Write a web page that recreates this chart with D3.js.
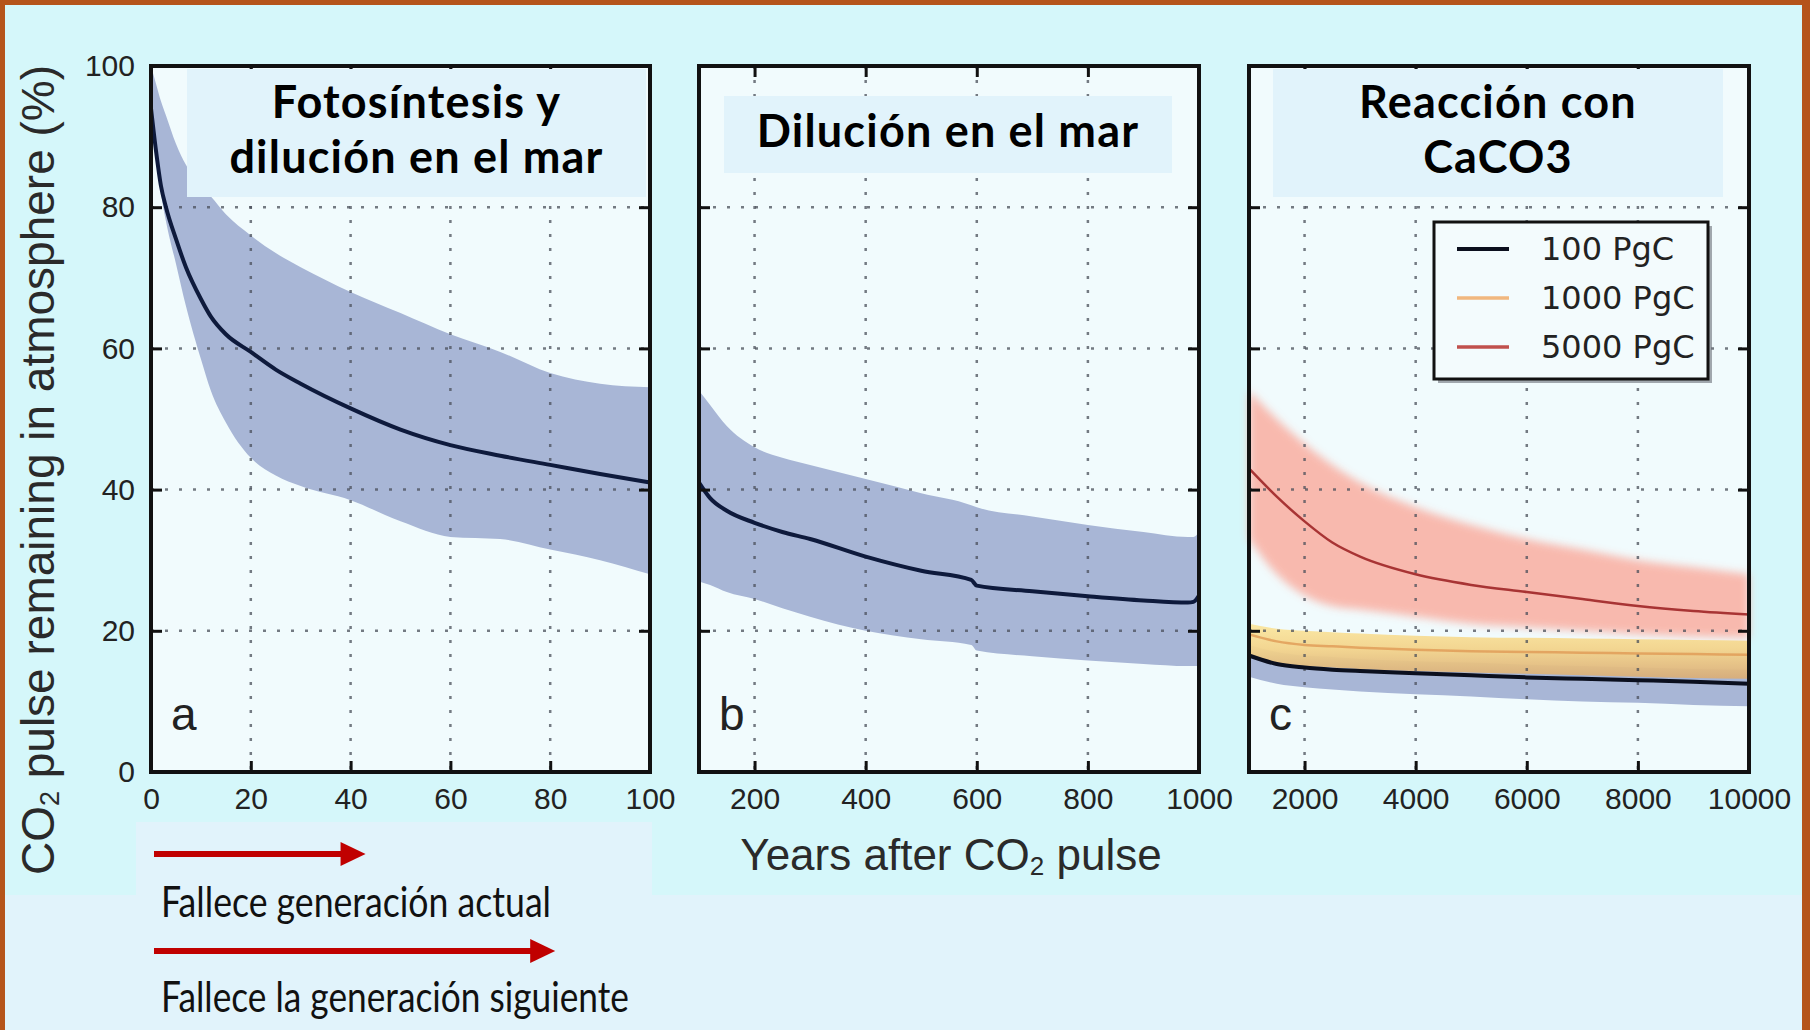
<!DOCTYPE html>
<html>
<head>
<meta charset="utf-8">
<script src="https://cdn.jsdelivr.net/npm/d3@7"></script>
<style>
  body { margin: 0; background: #e1f3fb; }
  svg { display: block; }
</style>
</head>
<body>
<div id="vis-container"></div>
<script>
// Values
const yTicks = [0, 20, 40, 60, 80, 100];
const xTicksA = [0, 20, 40, 60, 80, 100];
const xTicksB = [200, 400, 600, 800, 1000];
const xTicksC = [2000, 4000, 6000, 8000, 10000];

// panel a: 0-100 years
const yearsA = [0, 1, 2, 3, 5, 7, 10, 12, 15, 20, 25, 30, 40, 50, 60, 70, 80, 90, 100];
const meanA  = [94, 88, 83, 80, 75.5, 71.5, 67, 64.5, 62, 59.5, 57, 55, 51.5, 48.5, 46.3, 44.8, 43.5, 42.2, 41];
const upperA = [100, 97.5, 95, 93, 89, 86, 83, 81.5, 79, 76, 73.5, 71.5, 68, 65, 62, 59.5, 56.5, 55, 54.5];
const lowerA = [92, 88, 82, 78, 72, 66, 58.5, 54, 49.5, 44.5, 42, 40.5, 38.5, 35.5, 33.3, 33, 31.5, 30, 28];

// panel b: 100-1000 years
const yearsB = [100, 120, 150, 200, 250, 300, 400, 500, 590, 600, 700, 800, 900, 980, 990, 1000];
const meanB  = [41, 38.8, 37, 35.3, 34, 33, 30.5, 28.5, 27.2, 26.4, 25.6, 24.9, 24.3, 24, 24.1, 25];
const upperB = [54, 52, 49, 46, 44.5, 43.5, 41.5, 39.5, 37.8, 37.5, 36.2, 35, 34, 33.3, 33.3, 34];
const lowerB = [27, 26.5, 25.5, 24.5, 23.2, 22, 20, 18.8, 18, 17.2, 16.4, 15.8, 15.3, 15, 15, 15];

// panel c: 1000-10000 years, three pulse sizes
const yearsC = [1000, 1500, 2000, 2500, 3000, 4000, 5000, 6000, 7000, 8000, 9000, 10000];
const mean100C   = [16.5, 15.3, 14.8, 14.5, 14.3, 14, 13.7, 13.4, 13.2, 13, 12.8, 12.5];
const upper100C  = [18, 17, 16.5, 16.3, 16, 15.7, 15.5, 15.2, 15, 14.8, 14.6, 14.5];
const lower100C  = [13.5, 12.5, 12, 11.7, 11.4, 11, 10.7, 10.3, 10, 9.8, 9.5, 9.3];
const mean1000C  = [19.5, 18.5, 18, 17.8, 17.6, 17.3, 17.1, 17, 16.9, 16.8, 16.7, 16.6];
const upper1000C = [21, 20.3, 20, 19.8, 19.6, 19.3, 19.1, 19, 18.9, 18.8, 18.7, 18.6];
const lower1000C = [16.5, 15.5, 15, 14.8, 14.6, 14.3, 14.1, 13.9, 13.7, 13.5, 13.3, 13.2];
const mean5000C  = [43, 39, 35.5, 32.5, 30.5, 28, 26.5, 25.5, 24.5, 23.5, 22.8, 22.3];
const upper5000C = [54, 50, 46.5, 43.5, 41, 37.5, 35, 33, 31.5, 30, 29, 28];
const lower5000C = [33, 28, 25, 23.5, 23, 22, 21, 20.5, 20, 19.5, 19.2, 19];

const legendLabels = ["100 PgC", "1000 PgC", "5000 PgC"];
const panelLetters = ["a", "b", "c"];
const panelTitles = [["Fotosíntesis y", "dilución en el mar"], ["Dilución en el mar"], ["Reacción con", "CaCO3"]];
const arrowEnds = [43, 81]; // years on panel a
const arrowLabels = ["Fallece generación actual", "Fallece la generación siguiente"];

// Set dimensions
const width = 1810;
const height = 1030;
const plotTop = 66;
const plotBottom = 772;

const svg = d3.select("#vis-container")
  .append("svg")
  .attr("width", width)
  .attr("height", height)
  .attr("viewBox", [0, 0, width, height]);

const defs = svg.append("defs");
defs.append("filter").attr("id", "soft")
  .attr("x", "-10%").attr("y", "-20%").attr("width", "120%").attr("height", "140%")
  .append("feGaussianBlur").attr("stdDeviation", 4);
const yellowGrad = defs.append("linearGradient").attr("id", "yellowGrad")
  .attr("x1", 0).attr("x2", 0).attr("y1", 0).attr("y2", 1);
yellowGrad.append("stop").attr("offset", "0%").attr("stop-color", "#fbe7a0");
yellowGrad.append("stop").attr("offset", "45%").attr("stop-color", "#f3d48c");
yellowGrad.append("stop").attr("offset", "100%").attr("stop-color", "#d9ad78");

// Background: brown frame, slide, figure
svg.append("rect").attr("width", width).attr("height", height).attr("fill", "#b5541a");
svg.append("rect").attr("x", 5).attr("y", 5).attr("width", width - 13).attr("height", height - 5)
  .attr("fill", "#e1f3fb");
svg.append("rect").attr("x", 5).attr("y", 5).attr("width", width - 13).attr("height", 890)
  .attr("fill", "#d5f7fa");

// Y scale shared by all panels
const yScale = d3.scaleLinear().domain([0, 100]).range([plotBottom, plotTop]);

const panels = [
  { left: 151, right: 650, domain: [0, 100], ticks: xTicksA },
  { left: 699, right: 1199, domain: [100, 1000], ticks: xTicksB },
  { left: 1249, right: 1749, domain: [1000, 10000], ticks: xTicksC }
];
panels.forEach((p) => {
  p.x = d3.scaleLinear().domain(p.domain).range([p.left, p.right]);
  p.g = svg.append("g");
  p.g.append("rect")
    .attr("x", p.left).attr("y", plotTop)
    .attr("width", p.right - p.left).attr("height", plotBottom - plotTop)
    .attr("fill", "#f1fbfd");
  p.bands = p.g.append("g");
  p.grid = p.g.append("g");
  p.lines = p.g.append("g");
});

// Helpers for bands and lines
function drawBand(p, years, lo, hi, fill, opacity, filter) {
  const area = d3.area()
    .x((d, i) => p.x(years[i]))
    .y0((d, i) => yScale(lo[i]))
    .y1((d, i) => yScale(hi[i]))
    .curve(d3.curveMonotoneX);
  const path = p.bands.append("path")
    .attr("d", area(years))
    .attr("fill", fill)
    .attr("opacity", opacity);
  if (filter) path.attr("filter", filter);
}
function drawLine(p, years, vals, color, w, opacity) {
  const line = d3.line()
    .x((d, i) => p.x(years[i]))
    .y((d, i) => yScale(vals[i]))
    .curve(d3.curveMonotoneX);
  p.lines.append("path")
    .attr("d", line(years))
    .attr("fill", "none")
    .attr("stroke", color)
    .attr("stroke-width", w)
    .attr("opacity", opacity);
}

// Bands
drawBand(panels[0], yearsA, lowerA, upperA, "#a8b6d6", 1);
drawBand(panels[1], yearsB, lowerB, upperB, "#a8b6d6", 1);
drawBand(panels[2], yearsC, lower5000C, upper5000C, "#f9b2a6", 0.9, "url(#soft)");
drawBand(panels[2], yearsC, lower100C, upper100C, "#a8b6d6", 1);
drawBand(panels[2], yearsC, lower1000C, upper1000C, "url(#yellowGrad)", 0.95);

// Grid and inward ticks
panels.forEach((p) => {
  const inner = p.ticks.filter((t) => t > p.domain[0] && t < p.domain[1]);
  p.grid.selectAll(".vgrid").data(inner).enter().append("line")
    .attr("x1", (d) => p.x(d)).attr("x2", (d) => p.x(d))
    .attr("y1", plotTop).attr("y2", plotBottom)
    .attr("stroke", "#4a4f5a").attr("stroke-width", 2.5)
    .attr("stroke-dasharray", "3,11").attr("opacity", 0.75);
  p.grid.selectAll(".hgrid").data(yTicks.slice(1, -1)).enter().append("line")
    .attr("x1", p.left).attr("x2", p.right)
    .attr("y1", (d) => yScale(d)).attr("y2", (d) => yScale(d))
    .attr("stroke", "#4a4f5a").attr("stroke-width", 2.5)
    .attr("stroke-dasharray", "3,11").attr("opacity", 0.75);

  // bottom axis with labels
  p.g.append("g")
    .attr("transform", `translate(0,${plotBottom})`)
    .call(d3.axisBottom(p.x).tickValues(p.ticks).tickFormat(d3.format("d"))
      .tickSizeInner(-11).tickSizeOuter(0).tickPadding(16))
    .call((g) => g.select(".domain").remove())
    .call((g) => g.selectAll("line").attr("stroke", "#111").attr("stroke-width", 3))
    .call((g) => g.selectAll("text")
      .attr("font-family", "Liberation Sans, Arial, sans-serif")
      .attr("font-size", 30).attr("fill", "#222"));
  // top ticks
  p.g.append("g")
    .attr("transform", `translate(0,${plotTop})`)
    .call(d3.axisTop(p.x).tickValues(inner).tickSizeInner(-11).tickSizeOuter(0).tickFormat(""))
    .call((g) => g.select(".domain").remove())
    .call((g) => g.selectAll("line").attr("stroke", "#111").attr("stroke-width", 3));
  // left and right ticks
  p.g.append("g")
    .attr("transform", `translate(${p.left},0)`)
    .call(d3.axisLeft(yScale).tickValues(yTicks.slice(1, -1)).tickSizeInner(-11).tickSizeOuter(0).tickFormat(""))
    .call((g) => g.select(".domain").remove())
    .call((g) => g.selectAll("line").attr("stroke", "#111").attr("stroke-width", 3));
  p.g.append("g")
    .attr("transform", `translate(${p.right},0)`)
    .call(d3.axisRight(yScale).tickValues(yTicks.slice(1, -1)).tickSizeInner(-11).tickSizeOuter(0).tickFormat(""))
    .call((g) => g.select(".domain").remove())
    .call((g) => g.selectAll("line").attr("stroke", "#111").attr("stroke-width", 3));
});

// Y axis labels on panel a
svg.append("g")
  .attr("transform", `translate(${panels[0].left},0)`)
  .call(d3.axisLeft(yScale).tickValues(yTicks).tickSize(0).tickPadding(16))
  .call((g) => g.select(".domain").remove())
  .call((g) => g.selectAll("text")
    .attr("font-family", "Liberation Sans, Arial, sans-serif")
    .attr("font-size", 30).attr("fill", "#222"));

// Mean lines
drawLine(panels[0], yearsA, meanA, "#0e1a3c", 4, 1);
drawLine(panels[1], yearsB, meanB, "#0e1a3c", 4, 1);
drawLine(panels[2], yearsC, mean1000C, "#e09a55", 2.5, 0.8);
drawLine(panels[2], yearsC, mean5000C, "#a83434", 2.5, 1);
drawLine(panels[2], yearsC, mean100C, "#0b0f1e", 4, 1);

// Frames, letters and title boxes
panels.forEach((p, i) => {
  p.g.append("rect")
    .attr("x", p.left).attr("y", plotTop)
    .attr("width", p.right - p.left).attr("height", plotBottom - plotTop)
    .attr("fill", "none").attr("stroke", "#111").attr("stroke-width", 4);

  p.g.append("text")
    .attr("x", p.left + 20).attr("y", 730)
    .attr("font-family", "Liberation Sans, Arial, sans-serif")
    .attr("font-size", 46).attr("fill", "#222")
    .text(panelLetters[i]);
});

const titleBoxes = [
  { x: 187, y: 69, w: 459, h: 128 },
  { x: 724, y: 96, w: 448, h: 77 },
  { x: 1273, y: 69, w: 450, h: 128 }
];
titleBoxes.forEach((b, i) => {
  svg.append("rect")
    .attr("x", b.x).attr("y", b.y).attr("width", b.w).attr("height", b.h)
    .attr("fill", "#e1f3fb");
  const lines = panelTitles[i];
  const cy = b.y + b.h / 2 - 5;
  lines.forEach((t, j) => {
    svg.append("text")
      .attr("x", b.x + b.w / 2)
      .attr("y", cy + (j - (lines.length - 1) / 2) * 55)
      .attr("text-anchor", "middle")
      .attr("dominant-baseline", "central")
      .attr("font-family", "Lato, 'Open Sans', sans-serif")
      .attr("font-weight", 700)
      .attr("font-size", 45)
      .attr("letter-spacing", 1.2)
      .attr("fill", "#000")
      .text(t);
  });
});

// Legend
const legend = svg.append("g").attr("transform", "translate(1434,222)");
legend.append("rect").attr("x", 4).attr("y", 4).attr("width", 274).attr("height", 157)
  .attr("fill", "#6b7078").attr("opacity", 0.6);
legend.append("rect").attr("width", 274).attr("height", 157)
  .attr("fill", "#f3fbfd").attr("stroke", "#111").attr("stroke-width", 3);
const legendColors = ["#0b0f1e", "#f1b77e", "#c0504d"];
legendLabels.forEach((l, i) => {
  const y = 27 + i * 49;
  legend.append("line")
    .attr("x1", 23).attr("x2", 75).attr("y1", y).attr("y2", y)
    .attr("stroke", legendColors[i]).attr("stroke-width", i === 0 ? 4 : 3.5);
  legend.append("text")
    .attr("x", 107).attr("y", y)
    .attr("dominant-baseline", "central")
    .attr("font-family", "DejaVu Sans, sans-serif")
    .attr("font-size", 32).attr("fill", "#222")
    .text(l);
});

// Axis titles
const yLabel = svg.append("text")
  .attr("transform", "translate(38,470) rotate(-90)")
  .attr("text-anchor", "middle")
  .attr("dominant-baseline", "central")
  .attr("font-family", "Liberation Sans, Arial, sans-serif")
  .attr("font-size", 46).attr("fill", "#2a2a2a");
yLabel.append("tspan").text("CO");
yLabel.append("tspan").attr("font-size", 27).attr("dy", 12).text("2");
yLabel.append("tspan").attr("dy", -12).text(" pulse remaining in atmosphere (%)");

const xLabel = svg.append("text")
  .attr("x", 951).attr("y", 854)
  .attr("text-anchor", "middle")
  .attr("dominant-baseline", "central")
  .attr("font-family", "Liberation Sans, Arial, sans-serif")
  .attr("font-size", 44).attr("fill", "#2a2a2a");
xLabel.append("tspan").text("Years after CO");
xLabel.append("tspan").attr("font-size", 26).attr("dy", 12).text("2");
xLabel.append("tspan").attr("dy", -12).text(" pulse");

// Annotation box with arrows
svg.append("rect").attr("x", 136).attr("y", 822).attr("width", 516).attr("height", 74)
  .attr("fill", "#e1f3fb");
const arrowY = [854, 951];
const textY = [900, 995];
arrowEnds.forEach((e, i) => {
  const x0 = panels[0].x(0) + 3;
  const x1 = panels[0].x(e);
  svg.append("line")
    .attr("x1", x0).attr("x2", x1 - 20)
    .attr("y1", arrowY[i]).attr("y2", arrowY[i])
    .attr("stroke", "#c00000").attr("stroke-width", 6);
  svg.append("path")
    .attr("d", `M${x1},${arrowY[i]} L${x1 - 25},${arrowY[i] - 12} L${x1 - 25},${arrowY[i] + 12} Z`)
    .attr("fill", "#c00000");
  svg.append("text")
    .attr("x", 161).attr("y", textY[i])
    .attr("dominant-baseline", "central")
    .attr("font-family", "Lato, 'Open Sans', sans-serif")
    .attr("font-size", 43).attr("fill", "#111")
    .attr("textLength", i === 0 ? 390 : 468)
    .attr("lengthAdjust", "spacingAndGlyphs")
    .text(arrowLabels[i]);
});
</script>
</body>
</html>
